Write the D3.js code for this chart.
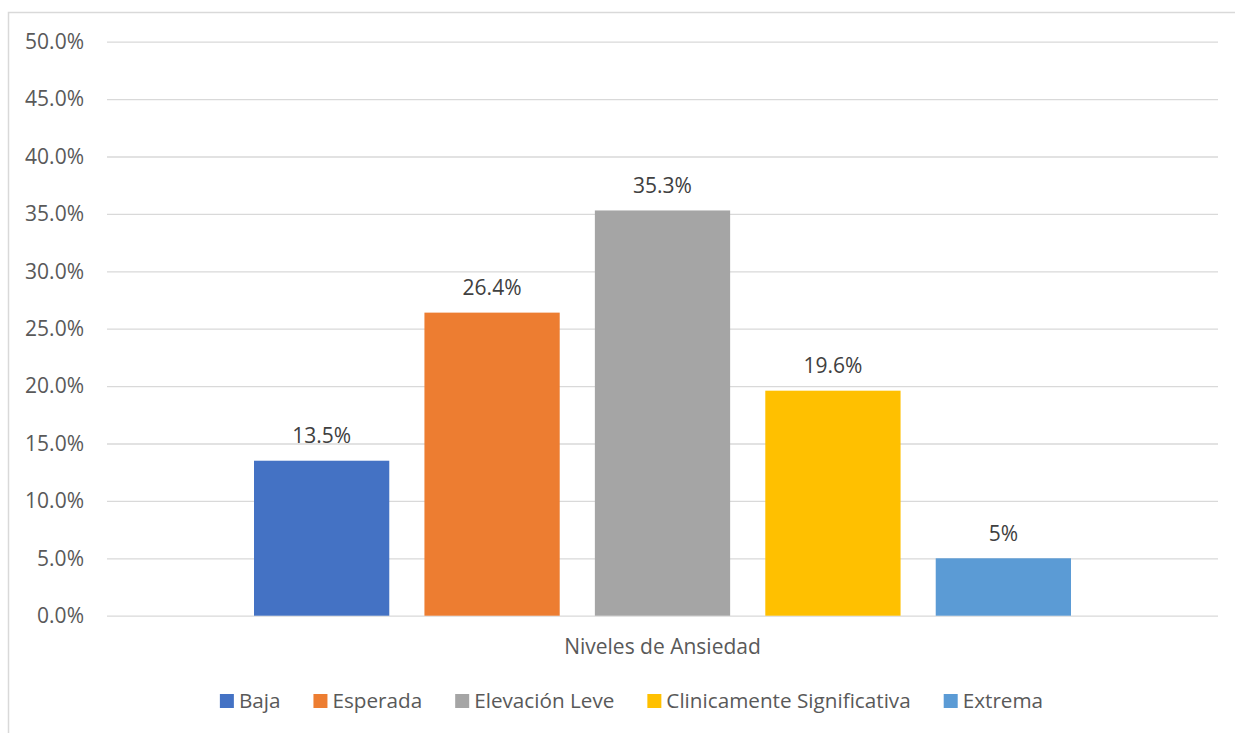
<!DOCTYPE html>
<html>
<head>
<meta charset="utf-8">
<script src="https://cdn.jsdelivr.net/npm/d3@7"></script>
<style>
  html, body { margin: 0; padding: 0; background: #fff; }
  svg { display: block; font-family: "Open Sans", "Noto Sans", sans-serif; }
</style>
</head>
<body>
<svg id="chart" width="1235" height="733"></svg>
<script>
// Niveles de ansiedad: porcentaje por categoría
const categories = ["Baja", "Esperada", "Elevación Leve", "Clinicamente Significativa", "Extrema"];
const values = [13.5, 26.4, 35.3, 19.6, 5];
const valueLabels = ["13.5%", "26.4%", "35.3%", "19.6%", "5%"];
const colors = ["#4472C4", "#ED7D31", "#A5A5A5", "#FFC000", "#5B9BD5"];
const yTicks = [0, 5, 10, 15, 20, 25, 30, 35, 40, 45, 50];
const axisTitle = "Niveles de Ansiedad";

const svg = d3.select("#chart");
const textColor = "#595959";
const gridColor = "#D9D9D9";
const fontSize = 21;

// outer chart frame
svg.append("rect")
  .attr("x", 8.5).attr("y", 12.5)
  .attr("width", 1240).attr("height", 740)
  .attr("fill", "none").attr("stroke", gridColor).attr("stroke-width", 1.5);

const plot = { left: 107, right: 1218, top: 41.7, bottom: 615.7 };

const y = d3.scaleLinear().domain([0, 50]).range([plot.bottom, plot.top]);

// group of five bars centred in the plot area
const x = d3.scaleBand()
  .domain(categories)
  .range([plot.left + 147, plot.right - 147])
  .paddingInner(0.2063)
  .paddingOuter(0);

// gridlines + tick labels via axis
const yAxis = d3.axisLeft(y)
  .tickValues(yTicks)
  .tickSize(-(plot.right - plot.left))
  .tickPadding(23)
  .tickFormat(d => d.toFixed(1) + "%");

const gAxis = svg.append("g")
  .attr("transform", `translate(${plot.left},0)`)
  .call(yAxis);
gAxis.select(".domain").remove();
gAxis.selectAll(".tick line").attr("stroke", gridColor).attr("stroke-width", 1.3);
gAxis.selectAll(".tick text")
  .attr("fill", textColor)
  .attr("font-size", fontSize)
  .attr("font-family", "'Open Sans', sans-serif");

// bars
svg.append("g").selectAll("rect")
  .data(categories)
  .join("rect")
  .attr("x", d => x(d))
  .attr("width", x.bandwidth())
  .attr("y", (d, i) => y(values[i]))
  .attr("height", (d, i) => y(0) - y(values[i]))
  .attr("fill", (d, i) => colors[i]);

// value labels
svg.append("g").selectAll("text")
  .data(categories)
  .join("text")
  .attr("x", d => x(d) + x.bandwidth() / 2)
  .attr("y", (d, i) => y(values[i]) - 17.5)
  .attr("text-anchor", "middle")
  .attr("fill", "#404040")
  .attr("font-size", fontSize)
  .text((d, i) => valueLabels[i]);

// category axis title
svg.append("text")
  .attr("x", (plot.left + plot.right) / 2)
  .attr("y", 654)
  .attr("text-anchor", "middle")
  .attr("fill", textColor)
  .attr("font-size", fontSize)
  .text(axisTitle);

// legend
const legend = svg.append("g");
const sw = 14, swGap = 5, itemGap = 33, legendY = 701;
const items = legend.selectAll("g")
  .data(categories)
  .join("g");
items.append("rect")
  .attr("width", sw).attr("height", sw)
  .attr("y", legendY - sw / 2)
  .attr("fill", (d, i) => colors[i]);
items.append("text")
  .attr("x", sw + swGap)
  .attr("y", legendY)
  .attr("dy", "0.35em")
  .attr("fill", textColor)
  .attr("font-size", 20.7)
  .text(d => d);

let cx = 0;
const offsets = [];
items.each(function () {
  const w = this.querySelector("text").getComputedTextLength();
  offsets.push(cx);
  cx += sw + swGap + w + itemGap;
});
const totalW = cx - itemGap;
const startX = 631.5 - totalW / 2;
items.attr("transform", (d, i) => `translate(${startX + offsets[i]},0)`);
</script>
</body>
</html>
